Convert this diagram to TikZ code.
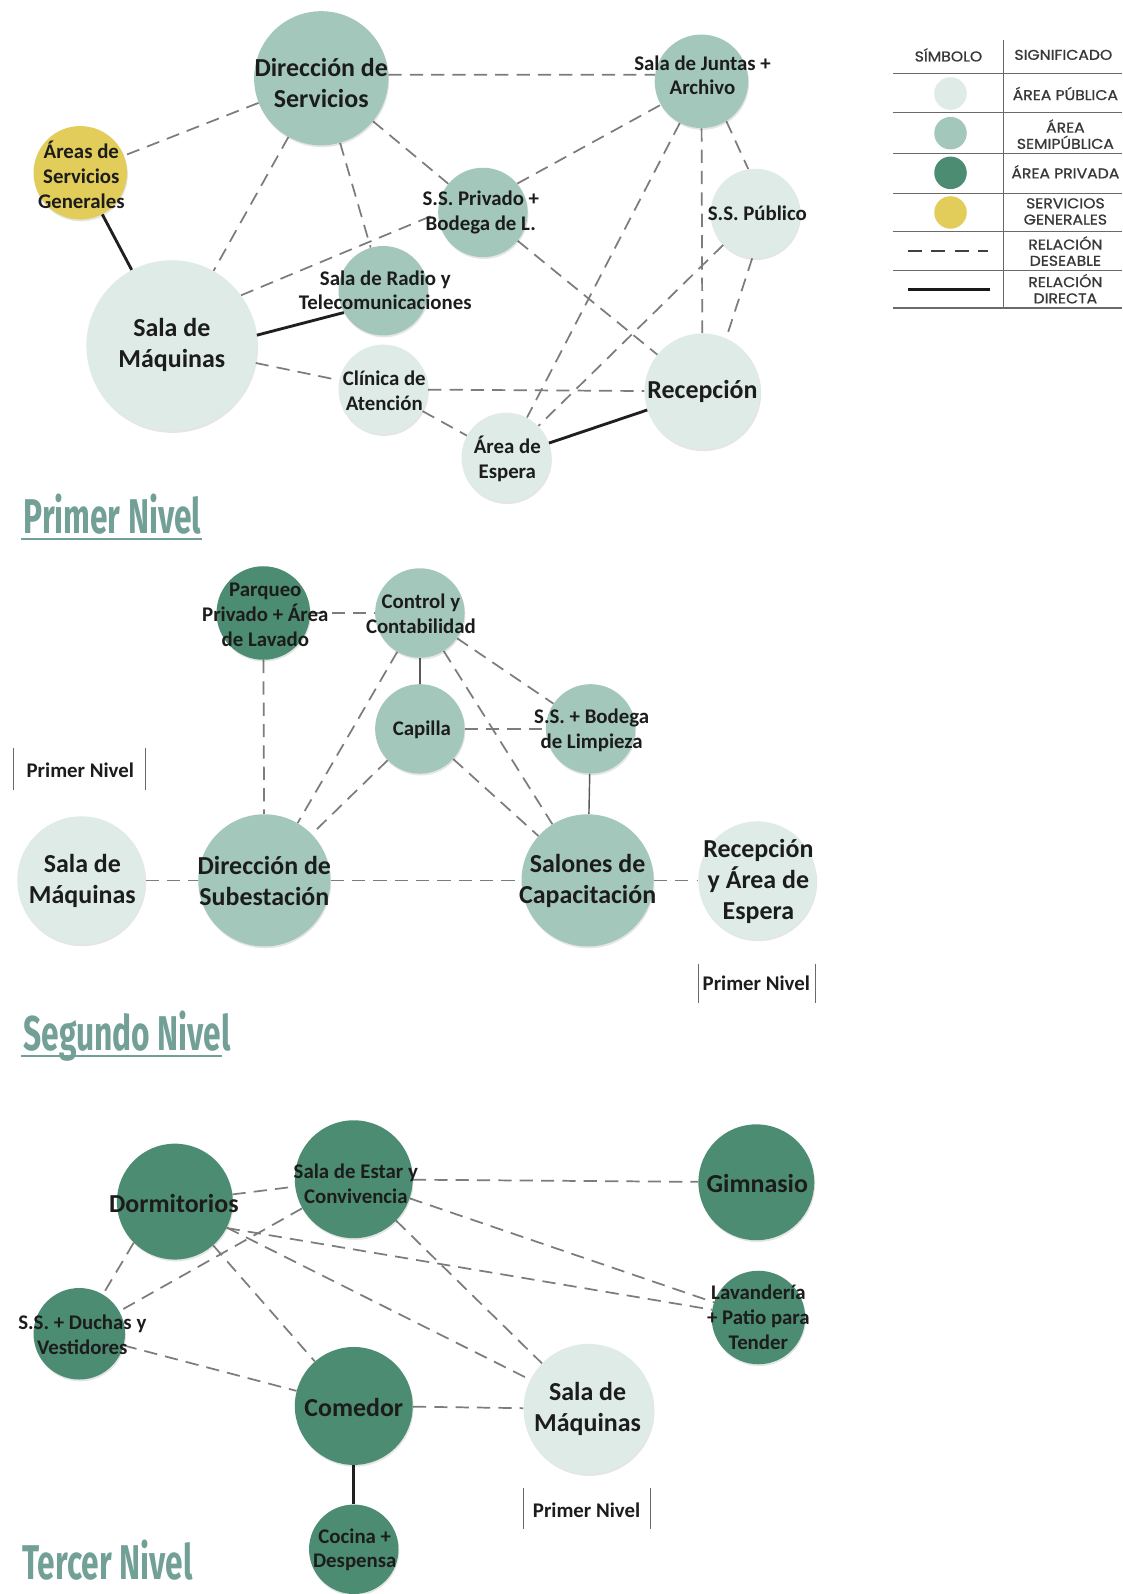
\documentclass[tikz,border=0pt]{standalone}
\usepackage{fontspec}
\setmainfont{Carlito}
\newfontfamily\legendfont[FakeStretch=1.1, FakeBold=0.9]{Poppins}
\newfontfamily\headingfont[FakeStretch=0.65]{Fira Sans}

\definecolor{pubfill}{HTML}{DEEBE6}
\definecolor{semifill}{HTML}{A3C8BB}
\definecolor{privfill}{HTML}{4C8C73}
\definecolor{genfill}{HTML}{E2CD5A}
\definecolor{linkgray}{HTML}{7C7C7C}
\definecolor{labelink}{HTML}{1C1C1C}
\definecolor{headcol}{HTML}{72A096}
\definecolor{rulegray}{HTML}{6A6A6A}

\pgfdeclarelayer{paper}
\pgfdeclarelayer{links}
\pgfsetlayers{paper,links,main}

\begin{document}
\begin{tikzpicture}[x=1pt,y=-1pt,
  room/.style={circle, inner sep=0pt, minimum size=2*#1,
    preaction={fill=black, fill opacity=0.10,
               transform canvas={xshift=0.8pt, yshift=-1.8pt}}},
  zpub/.style={fill=pubfill},
  zsemi/.style={fill=semifill},
  zpriv/.style={fill=privfill},
  zgen/.style={fill=genfill},
  wish/.style={draw=linkgray, line width=1.7pt, dash pattern=on 13pt off 8pt},
  direct/.style={draw=black!88, line width=2.8pt},
  thinlink/.style={draw=black!65, line width=1.4pt},
  lblbig/.style={font=\fontsize{25.5}{30.5}\selectfont\bfseries, text=labelink,
                 align=center, inner sep=0pt},
  lblsmall/.style={font=\fontsize{20.5}{24.5}\selectfont\bfseries, text=labelink,
                   align=center, inner sep=0pt},
  levelbar/.style={draw=rulegray, line width=1.1pt},
  heading/.style={font=\headingfont\bfseries\fontsize{48}{54}\selectfont,
                  text=headcol, inner sep=0pt, anchor=base west},
  headrule/.style={draw=headcol, line width=1.6pt},
  tablerule/.style={draw=rulegray, line width=1.1pt},
  legdot/.style={circle, inner sep=0pt, minimum size=32pt},
  legtxt/.style={font=\legendfont\fontsize{14}{16}\selectfont, text=black!78,
                 align=center, inner sep=0pt},
  legdash/.style={draw=black!75, line width=1.3pt, dash pattern=on 14pt off 9pt},
  legsolid/.style={draw=black!90, line width=2.6pt}
]
\useasboundingbox (0,0) rectangle (1104,1568);
\begin{pgfonlayer}{paper}
  \fill[white] (0,0) rectangle (1104,1568);
\end{pgfonlayer}

% ---------------- first level ----------------
\node[room=66, zsemi] (dir)   at (316,77)  {};
\node[room=46, zsemi] (jun)   at (690,80)  {};
\node[room=46, zgen]  (gen)   at (79,170)  {};
\node[room=44, zsemi] (ssp)   at (475,209) {};
\node[room=44, zpub]  (pubss) at (743,210) {};
\node[room=44, zsemi] (rad)   at (377,286) {};
\node[room=84, zpub]  (maq1)  at (169,340) {};
\node[room=44, zpub]  (cli)   at (377,383) {};
\node[room=57, zpub]  (rec)   at (691,385) {};
\node[room=44, zpub]  (esp)   at (498,450) {};

\begin{pgfonlayer}{links}
  \draw[wish] (dir.3) -- (jun.172);
  \draw[wish] (dir) -- (gen);
  \draw[wish] (dir) -- (maq1);
  \draw[wish] (dir) -- (rad);
  \draw[wish] (dir) -- (ssp);
  \draw[direct] (gen) -- (maq1);
  \draw[wish] (maq1.36) -- (ssp.181);
  \draw[direct] (maq1.7) -- (rad.209);
  \draw[wish] (maq1) -- (cli);
  \draw[wish] (cli) -- (rec);
  \draw[wish] (cli) -- (esp);
  \draw[direct] (esp) -- (rec);
  \draw[wish] (ssp.40) -- (jun.210);
  \draw[wish] (ssp) -- (rec);
  \draw[wish] (jun) -- (esp);
  \draw[wish] (jun) -- (rec);
  \draw[wish] (jun.-58) -- (pubss.99);
  \draw[wish] (pubss) -- (esp);
  \draw[wish] (pubss.266) -- (rec.66);
\end{pgfonlayer}

\node[lblbig]   (t-dir)   at (316,81.5) {Dirección de\\Servicios};
\node[lblsmall] (t-jun)   at (691,74)   {Sala de Juntas +\\Archivo};
\node[lblsmall] (t-gen)   at (80,172)   {Áreas de\\Servicios\\Generales};
\node[lblsmall] (t-ssp)   at (473,209)  {S.S. Privado +\\Bodega de L.};
\node[lblsmall] (t-pubss) at (745,210)  {S.S. Público};
\node[lblsmall] (t-rad)   at (379,285.5){Sala de Radio y\\Telecomunicaciones};
\node[lblbig]   (t-maq1)  at (169,339)  {Sala de\\Máquinas};
\node[lblsmall] (t-cli)   at (378,384)  {Clínica de\\Atención};
\node[lblbig]   (t-rec)   at (691,385.5){Recepción};
\node[lblsmall] (t-esp)   at (499,451)  {Área de\\Espera};

\node[heading] (h1) at (23,524.5) {Primer Nivel};
\coordinate (h1-a) at (21,530);
\coordinate (h1-b) at (199,530);
\draw[headrule] (h1-a) -- (h1-b);

% ---------------- second level ----------------
\node[room=46, zpriv] (par)  at (259,603) {};
\node[room=44, zsemi] (con)  at (413,603) {};
\node[room=44, zsemi] (cap)  at (413,717) {};
\node[room=44, zsemi] (ssb)  at (581,717) {};
\node[room=63, zpub]  (maq2) at (80,866)  {};
\node[room=65, zsemi] (dsub) at (260,866) {};
\node[room=65, zsemi] (sal)  at (578,866) {};
\node[room=58, zpub]  (rae)  at (745,866) {};

\begin{pgfonlayer}{links}
  \draw[wish] (par) -- (con);
  \draw[wish] (par) -- (dsub);
  \draw[thinlink] (con) -- (cap);
  \draw[wish] (con) -- (dsub);
  \draw[wish] (con) -- (sal);
  \draw[wish] (con) -- (ssb);
  \draw[wish] (cap) -- (ssb);
  \draw[wish] (cap) -- (dsub);
  \draw[wish] (cap) -- (sal);
  \draw[thinlink] (ssb) -- (sal);
  \draw[wish] (maq2) -- (dsub);
  \draw[wish] (dsub) -- (sal);
  \draw[wish] (sal) -- (rae);
\end{pgfonlayer}

\node[lblsmall] (t-par)  at (261,605)  {Parqueo\\Privado + Área\\de Lavado};
\node[lblsmall] (t-con)  at (414,604)  {Control y\\Contabilidad};
\node[lblsmall] (t-cap)  at (415,718)  {Capilla};
\node[lblsmall] (t-ssb)  at (582,718)  {S.S. + Bodega\\de Limpieza};
\node[lblbig]   (t-maq2) at (81,866.5) {Sala de\\Máquinas};
\node[lblbig]   (t-dsub) at (260,866.5){Dirección de\\Subestación};
\node[lblbig]   (t-sal)  at (578,866.5){Salones de\\Capacitación};
\node[lblbig]   (t-rae)  at (746,867)  {Recepción\\y Área de\\Espera};

\node[lblsmall] (pn1) at (79,757.6) {Primer Nivel};
\draw[levelbar] (13,736) -- (13,777);
\draw[levelbar] (143,736) -- (143,777);
\node[lblsmall] (pn2) at (744,967.5) {Primer Nivel};
\draw[levelbar] (687.5,948) -- (687.5,987);
\draw[levelbar] (802,948) -- (802,987);

\node[heading] (h2) at (23,1033) {Segundo Nivel};
\coordinate (h2-a) at (21,1038.5);
\coordinate (h2-b) at (218,1038.5);
\draw[headrule] (h2-a) -- (h2-b);

% ---------------- third level ----------------
\node[room=57, zpriv] (dor)  at (172,1182) {};
\node[room=58, zpriv] (est)  at (348,1160) {};
\node[room=57, zpriv] (gim)  at (744,1163) {};
\node[room=46, zpriv] (lav)  at (746,1296) {};
\node[room=45, zpriv] (ssd)  at (78,1312)  {};
\node[room=58, zpriv] (com)  at (348,1383) {};
\node[room=64, zpub]  (maq3) at (579,1386) {};
\node[room=44, zpriv] (coc)  at (348,1524) {};

\begin{pgfonlayer}{links}
  \draw[wish] (dor) -- (est);
  \draw[wish] (est) -- (gim);
  \draw[wish] (est) -- (lav);
  \draw[wish] (dor.-27) -- (lav);
  \draw[wish] (dor) -- (maq3);
  \draw[wish] (dor) -- (com);
  \draw[wish] (dor.225) -- (ssd.59);
  \draw[wish] (est) -- (ssd);
  \draw[wish] (est) -- (maq3);
  \draw[wish] (ssd) -- (com);
  \draw[wish] (com) -- (maq3);
  \draw[direct] (com) -- (coc);
\end{pgfonlayer}

\node[lblbig]   (t-dor)  at (171,1184)   {Dormitorios};
\node[lblsmall] (t-est)  at (350,1164)   {Sala de Estar y\\Convivencia};
\node[lblbig]   (t-gim)  at (745,1164)   {Gimnasio};
\node[lblsmall] (t-lav)  at (746,1296)   {Lavandería\\+ Patio para\\Tender};
\node[lblsmall] (t-ssd)  at (81,1313)    {S.S. + Duchas y\\Vestidores};
\node[lblbig]   (t-com)  at (348,1385)   {Comedor};
\node[lblbig]   (t-maq3) at (578,1386)   {Sala de\\Máquinas};
\node[lblsmall] (t-coc)  at (349,1524.5) {Cocina +\\Despensa};

\node[lblsmall] (pn3) at (577,1485.4) {Primer Nivel};
\draw[levelbar] (514.6,1463.6) -- (514.6,1503.8);
\draw[levelbar] (639.6,1463.6) -- (639.6,1503.8);

\node[heading] (h3) at (22,1554) {Tercer Nivel};

% ---------------- legend ----------------
\draw[tablerule] (987,39) -- (987,303);
\foreach \yy in {72,111,151,190,228,266,303}
  \draw[tablerule] (878,\yy) -- (1104,\yy);

\node[legtxt] (k-h1) at (933,54)  {SÍMBOLO};
\node[legtxt] (k-h2) at (1046,54) {SIGNIFICADO};

\node[legdot, zpub]  (k-pub)  at (935,92)  {};
\node[legdot, zsemi] (k-semi) at (935,131) {};
\node[legdot, zpriv] (k-priv) at (935,170) {};
\node[legdot, zgen]  (k-gen)  at (935,209) {};

\coordinate (k-d1) at (893,247);
\coordinate (k-d2) at (972,247);
\draw[legdash] (k-d1) -- (k-d2);
\coordinate (k-s1) at (893,285);
\coordinate (k-s2) at (974,285);
\draw[legsolid] (k-s1) -- (k-s2);

\node[legtxt] (k-t1) at (1048,92)  {ÁREA PÚBLICA};
\node[legtxt] (k-t2) at (1048,132) {ÁREA\\SEMIPÚBLICA};
\node[legtxt] (k-t3) at (1048,169) {ÁREA PRIVADA};
\node[legtxt] (k-t4) at (1048,208) {SERVICIOS\\GENERALES};
\node[legtxt] (k-t5) at (1048,247) {RELACIÓN\\DESEABLE};
\node[legtxt] (k-t6) at (1048,284) {RELACIÓN\\DIRECTA};
\end{tikzpicture}
\end{document}
